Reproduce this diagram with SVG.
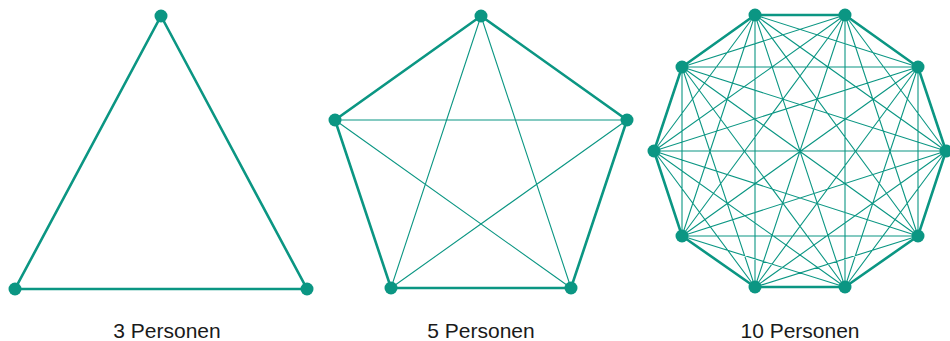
<svg xmlns="http://www.w3.org/2000/svg" width="950" height="341" viewBox="0 0 950 341">
<style>
.o{stroke:#0b9683;stroke-width:2.6;fill:none;stroke-linecap:round}
.d{stroke:#0b9683;stroke-width:1.1;fill:none}
.n{fill:#0b9683}
.t{font-family:"Liberation Sans",Arial,sans-serif;font-size:21px;fill:#1a1a1a;text-anchor:middle}
</style>
<rect width="950" height="341" fill="#fff"/>
<g id="connectors">
<polygon class="o" points="161,16 307,289 15,289"/>
<polygon class="o" points="481,16 627,120 571,288 391,288 335,120"/>
<path class="d" d="M481,16L391,288M481,16L571,288M335,120L627,120M335,120L571,288M627,120L391,288"/>
<polygon class="o" points="755,15 845,15 918,67 946,151 918,236 845,287 755,287 682,236 654,151 682,67"/>
<path class="d" d="M755,15L918,67M755,15L946,151M755,15L918,236M755,15L845,287M755,15L755,287M755,15L682,236M755,15L654,151
M845,15L946,151M845,15L918,236M845,15L845,287M845,15L755,287M845,15L682,236M845,15L654,151M845,15L682,67
M918,67L918,236M918,67L845,287M918,67L755,287M918,67L682,236M918,67L654,151M918,67L682,67
M946,151L845,287M946,151L755,287M946,151L682,236M946,151L654,151M946,151L682,67
M918,236L755,287M918,236L682,236M918,236L654,151M918,236L682,67
M845,287L682,236M845,287L654,151M845,287L682,67
M755,287L654,151M755,287L682,67
M682,236L682,67"/>
</g>
<g id="n3a"><circle class="n" cx="161" cy="16" r="6.5"/></g>
<g id="n3b"><circle class="n" cx="15" cy="289" r="6.5"/></g>
<g id="n3c"><circle class="n" cx="307" cy="289" r="6.5"/></g>
<g id="n5a"><circle class="n" cx="481" cy="16" r="6.5"/></g>
<g id="n5b"><circle class="n" cx="627" cy="120" r="6.5"/></g>
<g id="n5c"><circle class="n" cx="571" cy="288" r="6.5"/></g>
<g id="n5d"><circle class="n" cx="391" cy="288" r="6.5"/></g>
<g id="n5e"><circle class="n" cx="335" cy="120" r="6.5"/></g>
<g id="n10a"><circle class="n" cx="755" cy="15" r="6.5"/></g>
<g id="n10b"><circle class="n" cx="845" cy="15" r="6.5"/></g>
<g id="n10c"><circle class="n" cx="918" cy="67" r="6.5"/></g>
<g id="n10d"><circle class="n" cx="946" cy="151" r="6.5"/></g>
<g id="n10e"><circle class="n" cx="918" cy="236" r="6.5"/></g>
<g id="n10f"><circle class="n" cx="845" cy="287" r="6.5"/></g>
<g id="n10g"><circle class="n" cx="755" cy="287" r="6.5"/></g>
<g id="n10h"><circle class="n" cx="682" cy="236" r="6.5"/></g>
<g id="n10i"><circle class="n" cx="654" cy="151" r="6.5"/></g>
<g id="n10j"><circle class="n" cx="682" cy="67" r="6.5"/></g>
<g id="labels">
<text class="t" x="167" y="338">3 Personen</text>
<text class="t" x="481" y="338">5 Personen</text>
<text class="t" x="800" y="338">10 Personen</text>
</g>
</svg>
